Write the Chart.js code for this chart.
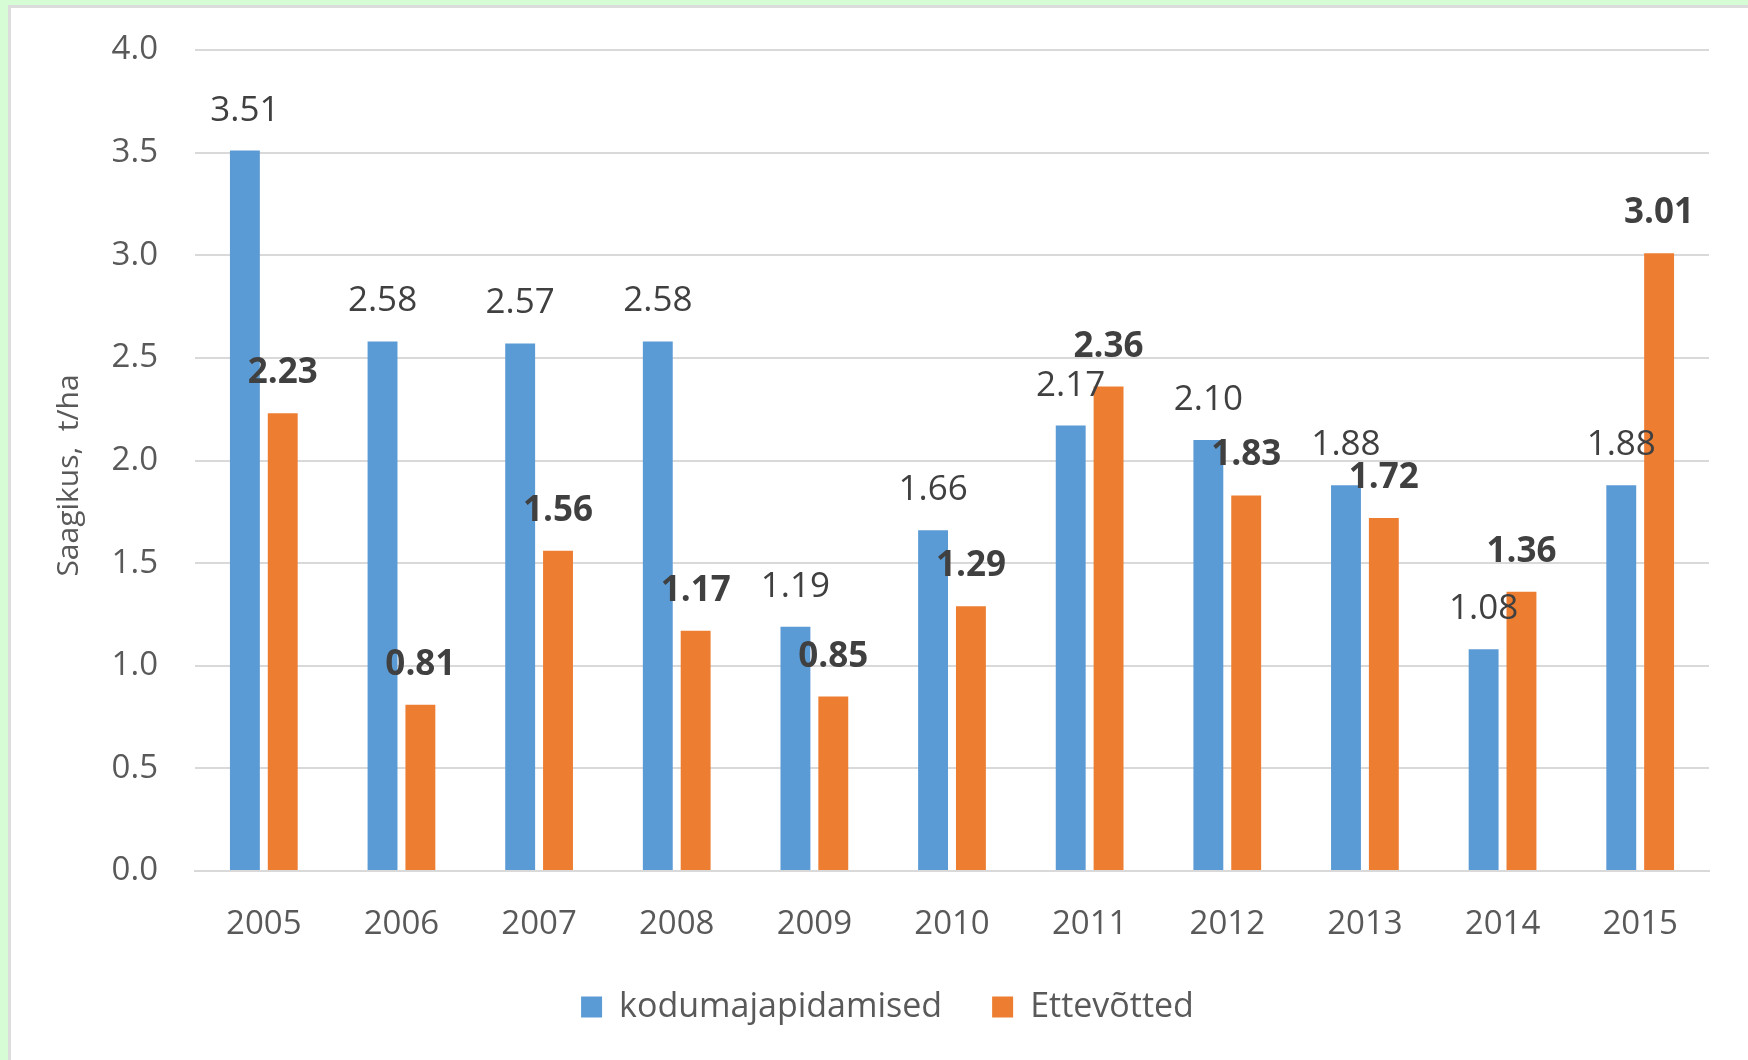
<!DOCTYPE html>
<html lang="et">
<head>
<meta charset="utf-8">
<title>Saagikus</title>
<script src="https://cdn.jsdelivr.net/npm/chart.js@4.4.1/dist/chart.umd.min.js"></script>
<style>
  html, body { margin: 0; padding: 0; }
  body { width: 1748px; height: 1060px; background: #d5fcd5; position: relative; overflow: hidden; }
  .kaart { position: absolute; left: 8px; top: 5px; width: 1737px; height: 1060px; background: #fff; border: 3px solid #dcdcdc; border-bottom: none; }
  #graafik { position: absolute; left: 0; top: 0; }
</style>
</head>
<body>
<div class="kaart"></div>
<canvas id="graafik" width="1748" height="1060"></canvas>
<script>
// andmed loetud pildilt
const aastad = ['2005', '2006', '2007', '2008', '2009', '2010', '2011', '2012', '2013', '2014', '2015'];
const kodumajapidamised = [3.51, 2.58, 2.57, 2.58, 1.19, 1.66, 2.17, 2.10, 1.88, 1.08, 1.88];
const ettevotted = [2.23, 0.81, 1.56, 1.17, 0.85, 1.29, 2.36, 1.83, 1.72, 1.36, 3.01];
const seeriaNimed = ['kodumajapidamised', 'Ettevõtted'];
const yTeljeNimi = 'Saagikus,  t/ha';

const sinine = '#5b9bd5';
const oranz = '#ed7d31';
const font = "'Open Sans', 'Liberation Sans', sans-serif";

// väärtused tulpade kohale (Excel-i andmesildid)
const tulbaSildid = {
  id: 'tulbaSildid',
  afterDatasetsDraw(chart) {
    const ctx = chart.ctx;
    ctx.save();
    ctx.textAlign = 'center';
    ctx.textBaseline = 'middle';
    ctx.fillStyle = '#404040';
    chart.data.datasets.forEach((ds, i) => {
      const meta = chart.getDatasetMeta(i);
      ctx.font = (i === 1 ? 'bold ' : '') + '35px ' + font;
      meta.data.forEach((bar, j) => {
        ctx.fillText(ds.data[j].toFixed(2), bar.x, bar.y - 40);
      });
    });
    ctx.restore();
  }
};

// y-telje nimi veidi allapoole nagu Excelis, legend veidi paremale
const teljeNimi = {
  id: 'teljeNimi',
  afterLayout(chart) {
    chart.legend.left += 7;
    chart.legend.right += 7;
  },
  afterDraw(chart) {
    const ctx = chart.ctx;
    const a = chart.chartArea;
    ctx.save();
    ctx.translate(69, (a.top + a.bottom) / 2 + 15);
    ctx.rotate(-Math.PI / 2);
    ctx.textAlign = 'center';
    ctx.textBaseline = 'middle';
    ctx.fillStyle = '#595959';
    ctx.font = '30px ' + font;
    ctx.fillText(yTeljeNimi, 0, 0);
    ctx.restore();
  }
};

new Chart(document.getElementById('graafik'), {
  type: 'bar',
  data: {
    labels: aastad,
    datasets: [
      { label: seeriaNimed[0], data: kodumajapidamised, backgroundColor: sinine },
      { label: seeriaNimed[1], data: ettevotted, backgroundColor: oranz }
    ]
  },
  options: {
    responsive: false,
    animation: false,
    categoryPercentage: 0.55,
    barPercentage: 0.79,
    layout: { padding: { left: 52, top: 50, right: 39, bottom: 26 } },
    scales: {
      x: {
        grid: { display: false, drawTicks: false },
        border: { color: '#d9d9d9', width: 2 },
        ticks: { color: '#595959', font: { family: font, size: 33 }, padding: 34 },
        afterFit: (s) => { s.height = 69; }
      },
      y: {
        min: 0,
        max: 4,
        // nähtamatud kriipsud annavad vahe siltide ja joonise vahel
        grid: { color: '#d9d9d9', lineWidth: 2, drawTicks: true, tickLength: 35, tickColor: 'rgba(0,0,0,0)' },
        border: { display: false },
        ticks: {
          stepSize: 0.5,
          color: '#595959',
          font: { family: font, size: 33 },
          padding: 2,
          callback: (v) => v.toFixed(1)
        },
        afterFit: (s) => { s.width = 143; }
      }
    },
    plugins: {
      legend: {
        position: 'bottom',
        labels: {
          color: '#595959',
          font: { family: font, size: 34 },
          boxWidth: 21,
          boxHeight: 21,
          padding: 50
        }
      },
      tooltip: { enabled: false }
    }
  },
  plugins: [tulbaSildid, teljeNimi]
});
</script>
</body>
</html>
